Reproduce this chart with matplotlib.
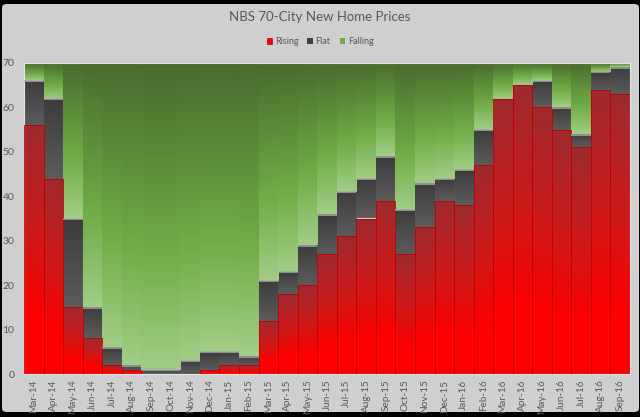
import numpy as np
import matplotlib
matplotlib.use("Agg")
import matplotlib.pyplot as plt
from matplotlib.colors import LinearSegmentedColormap
from matplotlib.patches import FancyBboxPatch, Patch

months = ["Mar-14", "Apr-14", "May-14", "Jun-14", "Jul-14", "Aug-14", "Sep-14", "Oct-14",
          "Nov-14", "Dec-14", "Jan-15", "Feb-15", "Mar-15", "Apr-15", "May-15", "Jun-15",
          "Jul-15", "Aug-15", "Sep-15", "Oct-15", "Nov-15", "Dec-15", "Jan-16", "Feb-16",
          "Mar-16", "Apr-16", "May-16", "Jun-16", "Jul-16", "Aug-16", "Sep-16"]
rising = [56, 44, 15, 8, 2, 1, 0, 0, 0, 1, 2, 2, 12, 18, 20, 27, 31, 35, 39, 27, 33, 39, 38, 47,
          62, 65, 60, 55, 51, 64, 63]
flat = [10, 18, 20, 7, 4, 1, 1, 1, 3, 4, 3, 2, 9, 5, 9, 9, 10, 9, 10, 10, 10, 5, 8, 8,
        0, 0, 6, 5, 3, 4, 6]
falling = [4, 8, 35, 55, 64, 68, 69, 69, 67, 65, 65, 66, 49, 47, 41, 34, 29, 26, 21, 33, 27, 26, 24, 15,
           8, 5, 4, 10, 16, 2, 1]
yticks = [0, 10, 20, 30, 40, 50, 60, 70]

FONT = ["Lato", "DejaVu Sans"]
TXT = "#595959"

red_cmap = LinearSegmentedColormap.from_list(
    "r", [(0.0, "#9E2B2F"), (0.45, "#D01818"), (0.78, "#FF0000"), (1.0, "#FF0000")])
gray_cmap = LinearSegmentedColormap.from_list(
    "g", [(0.0, "#3C3C3C"), (1.0, "#5C5C5C")])
green_cmap = LinearSegmentedColormap.from_list(
    "gr", [(0.0, "#4A6B2E"), (0.62, "#70AD47"), (1.0, "#A2CD86")])

fig = plt.figure(figsize=(6.4, 4.17), dpi=100, facecolor="black")
bg = FancyBboxPatch((2 / 640, 5 / 417), 637 / 640, 408 / 417,
                    boxstyle="round,pad=0,rounding_size=0.008",
                    transform=fig.transFigure, facecolor="#D0CFCF", edgecolor="none",
                    zorder=-10)
fig.patches.append(bg)

ax = fig.add_axes([24 / 640, 1 - 374 / 417, 606 / 640, 311 / 417])
ax.set_facecolor("none")
ax.set_zorder(1)

x = np.arange(len(months))
grad = np.linspace(0, 1, 256).reshape(-1, 1)


def fill(patches, cmap, z):
    for p in patches:
        x0 = p.get_x()
        w = p.get_width()
        y0 = p.get_y()
        h = p.get_height()
        if h <= 0:
            continue
        im = ax.imshow(grad, cmap=cmap, aspect="auto", origin="upper",
                       extent=[x0, x0 + w, y0, y0 + h], interpolation="bilinear", zorder=z)
        im.set_clip_path(p)


b_r = ax.bar(x, rising, width=1.0, facecolor="none", edgecolor="#C00000", linewidth=0.6, zorder=3)
b_f = ax.bar(x, flat, width=1.0, bottom=rising, facecolor="none", edgecolor="none", zorder=3)
bot2 = [r + f for r, f in zip(rising, flat)]
b_g = ax.bar(x, falling, width=1.0, bottom=bot2, facecolor="none", edgecolor="none", zorder=3)

fill(b_r, red_cmap, 2)
fill(b_f, gray_cmap, 2)
fill(b_g, green_cmap, 2)

# light bevel highlight at top of flat segments
for xi, top, f in zip(x, bot2, flat):
    if f > 0:
        ax.plot([xi - 0.5, xi + 0.5], [top - 0.13, top - 0.13], color="#A8A8A8",
                lw=1.1, solid_capstyle="butt", zorder=4)

ax.set_xlim(-0.5, len(months) - 0.5)
ax.set_ylim(0, 70)
ax.set_yticks(yticks)
ax.set_yticklabels([str(v) for v in yticks], family=FONT, fontsize=7.5, color=TXT)
ax.set_xticks(x)
ax.set_xticklabels(months, rotation=90, family=FONT, fontsize=7.2, color=TXT)
ax.tick_params(axis="both", length=0, pad=4)
ax.tick_params(axis="y", pad=7)
for s in ax.spines.values():
    s.set_color("#E4E4E4")
    s.set_linewidth(0.8)

fig.text(0.5, 1 - 17 / 417, "NBS 70-City New Home Prices", ha="center", va="center",
         family=FONT, fontsize=9.5, color=TXT)

handles = [Patch(facecolor="#FF0000", edgecolor="#C00000", lw=0.5),
           Patch(facecolor="#404040", edgecolor="none"),
           Patch(facecolor="#70AD47", edgecolor="none")]
leg = fig.legend(handles, ["Rising", "Flat", "Falling"], loc="center",
                 bbox_to_anchor=(0.5, 1 - 42 / 417), ncol=3, frameon=False,
                 handlelength=0.6, handleheight=0.6, handletextpad=0.3, columnspacing=1.0,
                 prop={"family": FONT, "size": 6.5})
for t in leg.get_texts():
    t.set_color(TXT)

fig.savefig("out.png", dpi=100, facecolor=fig.get_facecolor())
